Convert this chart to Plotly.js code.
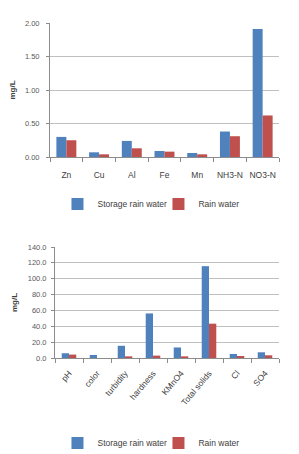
<!DOCTYPE html>
<html><head><meta charset="utf-8">
<script src="https://cdn.plot.ly/plotly-3.0.1.min.js"></script>
<style>body{margin:0;background:#fff}#c1,#c2{width:299px;height:227px}</style>
</head><body><div id="c1"></div><div id="c2"></div>
<script>
const metalCats = ["Zn","Cu","Al","Fe","Mn","NH3-N","NO3-N"];
const metalStorage = [0.30,0.07,0.24,0.09,0.06,0.38,1.91];
const metalRain = [0.25,0.04,0.13,0.08,0.04,0.31,0.62];
const paramCats = ["pH","color","turbidity","hardness","KMnO4","Total solids","Cl","SO4"];
const paramStorage = [6.0,3.8,15.4,56.2,13.3,115.8,5.1,7.2];
const paramRain = [4.3,0,2.1,3.0,2.1,43.3,2.5,3.4];
const seriesNames = ["Storage rain water","Rain water"];
const colors = ["#4F81BD","#C0504D"];
const fam = "Liberation Sans, Arial, sans-serif";

function mk(div, cats, s1, s2, opts){
  const traces = [
    {type:"bar", x:cats, y:s1, name:seriesNames[0], marker:{color:colors[0]}},
    {type:"bar", x:cats, y:s2, name:seriesNames[1], marker:{color:colors[1]}}
  ];
  const layout = {
    width:299, height:227, paper_bgcolor:"#fff", plot_bgcolor:"#fff",
    margin:opts.margin, barmode:"group", bargap:opts.bargap, bargroupgap:0,
    font:{family:fam, color:"#404040", size:8},
    showlegend:true,
    legend:{orientation:"h", x:0.53, xanchor:"center", xref:"container", y:opts.legY, yref:"container", yanchor:"middle",
      font:{size:8.5, color:"#404040"}, itemwidth:30, entrywidth:opts.entryw, tracegroupgap:0},
    xaxis:{type:"category", showline:true, linecolor:"#8c8c8c", linewidth:1,
      ticks:"outside", tickson:"boundaries", ticklen:4, tickcolor:"#8c8c8c", ticklabelstandoff:opts.tls,
      tickangle:opts.tickangle, tickfont:{size:8.5, color:"#404040"}, showgrid:false, fixedrange:true, automargin:false},
    yaxis:{range:opts.range, dtick:opts.dtick, tickformat:opts.fmt, showline:true,
      linecolor:"#8c8c8c", linewidth:1, ticks:"outside", ticklen:3, tickcolor:"#8c8c8c", ticklabelstandoff:opts.ytls,
      gridcolor:"#bfbfbf", gridwidth:1, zeroline:false, tickfont:{size:7.5, color:"#595959"},
      title:{text:"<b>mg/L</b>", font:{size:8, color:"#404040"}, standoff:opts.standoff}, automargin:false}
  };
  Plotly.newPlot(div, traces, layout, {staticPlot:true, displayModeBar:false});
}
mk("c1", metalCats, metalStorage, metalRain,
  {margin:{l:50,r:20,t:23,b:70}, bargap:0.39, legY:0.101, entryw:56, tls:10, ytls:5, tickangle:0, range:[0,2], dtick:0.5, fmt:".2f", standoff:8});
mk("c2", paramCats, paramStorage, paramRain,
  {margin:{l:55,r:20,t:20,b:96}, bargap:0.48, legY:0.048, entryw:56, tls:6, ytls:3, tickangle:-50, range:[0,140], dtick:20, fmt:".1f", standoff:8});
</script></body></html>
